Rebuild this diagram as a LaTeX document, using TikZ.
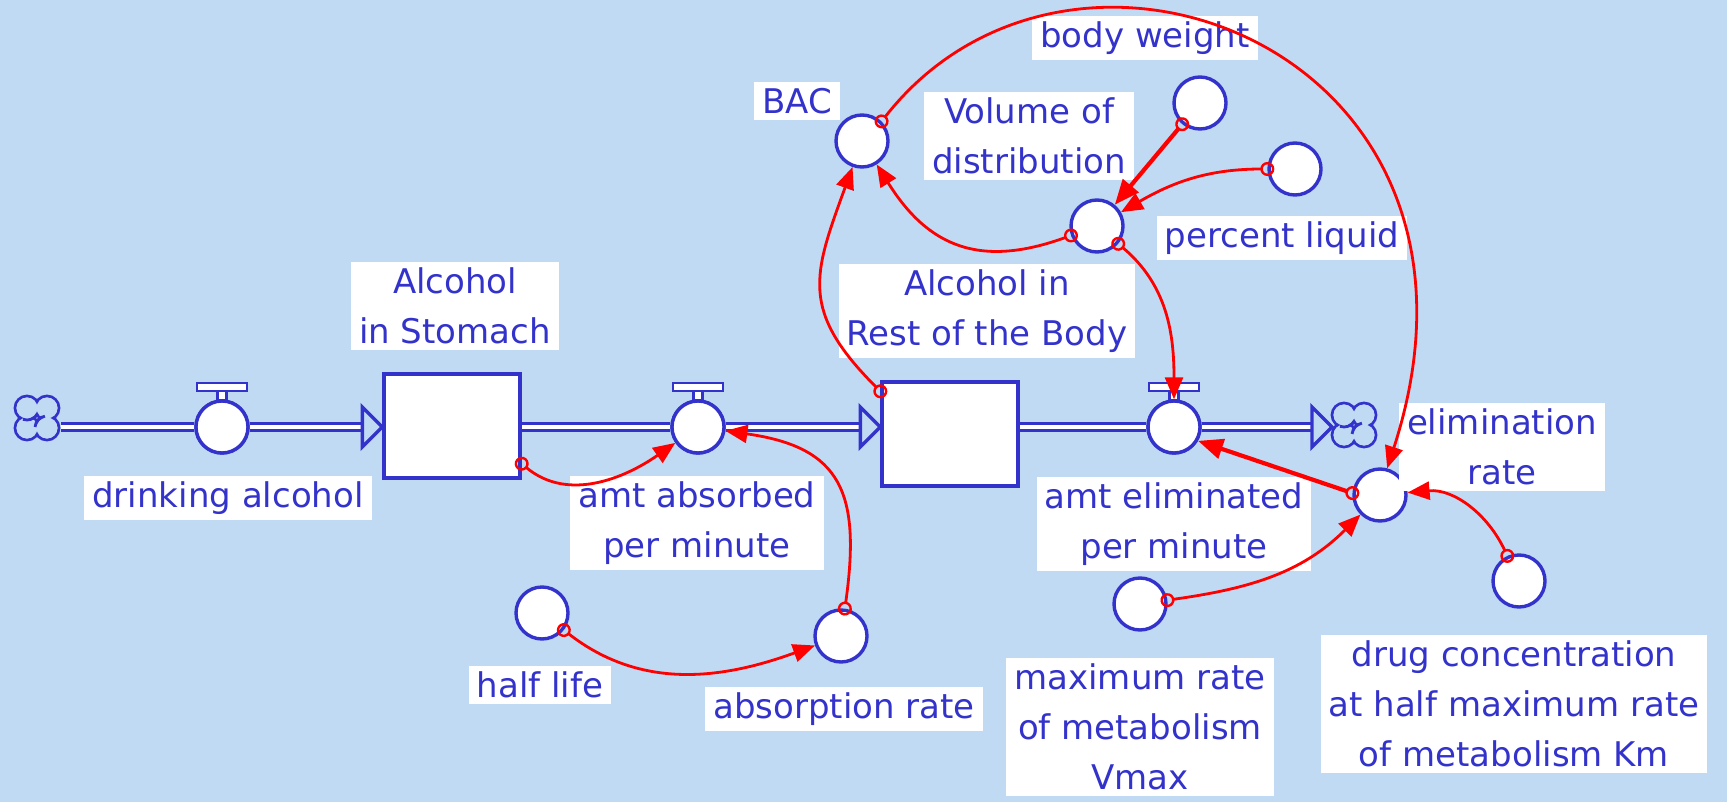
\documentclass[tikz,border=0pt]{standalone}
\usepackage{fontspec}
\newfontfamily\lblfont{DejaVu Sans}
\usetikzlibrary{arrows.meta}
\definecolor{bg}{RGB}{192,218,244}
\definecolor{vblue}{RGB}{51,51,204}
\tikzset{
  aux/.style={circle, draw=vblue, fill=white, line width=1.7pt, minimum size=26pt, inner sep=0pt},
  valve/.style={aux},
  stock/.style={rectangle, draw=vblue, fill=white, line width=1.7pt, minimum width=68pt, minimum height=52pt},
  lbl/.style={fill=white, text=vblue, align=center, inner xsep=4pt, inner ysep=3pt,
    font=\lblfont\fontsize{17}{25}\selectfont},
  pipe/.style={draw=vblue, line width=1.7pt, double=white, double distance=1.8pt},
  flowtip/.style={draw=vblue, fill=bg, line width=1.7pt, line join=miter},
  handle/.style={draw=vblue, fill=white, line width=1.4pt},
  cloudline/.style={draw=vblue, line width=1.4pt},
  link/.style={draw=red, line width=1.4pt, shorten <=-3.5pt,
    {Circle[open,length=7pt,line width=1.2pt]}-{Triangle[length=11pt,width=9pt]}},
  thicklink/.style={draw=red, line width=2.1pt, shorten <=-3.5pt,
    {Circle[open,length=7pt,line width=1.2pt]}-{Triangle[length=12.5pt,width=10pt]}}
}

\begin{document}
\begin{tikzpicture}[x=0.5pt,y=0.5pt]
  \fill[bg] (0,0) rectangle (1727,-802);
  \useasboundingbox (0,0) rectangle (1727,-802);

  \node[stock] (stomach) at (452,-426) {};
  \node[stock] (body) at (950,-434) {};
  \node[valve] (drink) at (222,-427) {};
  \node[valve] (absorb) at (698,-427) {};
  \node[valve] (elim) at (1174,-427) {};
  \coordinate (srcL) at (37,-418);
  \coordinate (sinkR) at (1354,-425);

  % flows
  \draw[pipe] ([xshift=12pt]srcL |- drink) -- (drink);
  \draw[pipe] (drink) -- ([xshift=-10pt]stomach.west |- drink);
  \draw[pipe] (stomach.east |- absorb) -- (absorb);
  \draw[pipe] (absorb) -- ([xshift=-10pt]body.west |- absorb);
  \draw[pipe] (body.east |- elim) -- (elim);
  \draw[pipe] (elim) -- ([xshift=-21pt]sinkR |- elim);
  \draw[flowtip] (stomach.west |- drink) -- ++(-20,20) -- ++(0,-40) -- cycle;
  \draw[flowtip] (body.west |- absorb) -- ++(-20,20) -- ++(0,-40) -- cycle;
  \draw[flowtip] ([xshift=-11pt]sinkR |- elim) -- ++(-20,20) -- ++(0,-40) -- cycle;
  \node[stock] at (stomach) {};
  \node[stock] at (body) {};
  \foreach \v in {drink,absorb,elim} {
    \node[valve] at (\v) {};
    \draw[handle] ([shift={(-4.5,27)}]\v.center) rectangle ([shift={(4.5,36)}]\v.center);
    \draw[handle] ([shift={(-25,36)}]\v.center) rectangle ([shift={(25,44)}]\v.center);
  }
  % clouds
  \foreach \c in {srcL,sinkR} {
    \foreach \dx/\dy in {-10/10,-10/-10,10/-10,10/10}
      \draw[cloudline] ([shift={(\dx,\dy)}]\c) circle[radius=12];
    \foreach \dx/\dy in {-10/10,-10/-10,10/-10,10/10}
      \fill[bg] ([shift={(\dx,\dy)}]\c) circle[radius=10.5];
    \draw[cloudline] ([shift={(-10,10)}]\c) ++(250:12) arc[start angle=250, end angle=330, radius=12];
    \draw[cloudline] ([shift={(10,-10)}]\c) ++(100:12) arc[start angle=100, end angle=175, radius=12];
  }

  % converters
  \node[aux] (bac) at (862,-141) {};
  \node[aux] (vod) at (1097,-226) {};
  \node[aux] (bw) at (1200,-103) {};
  \node[aux] (pl) at (1295,-169) {};
  \node[aux] (halflife) at (542,-613) {};
  \node[aux] (absrate) at (841,-636) {};
  \node[aux] (elimrate) at (1380,-495) {};
  \node[aux] (vmax) at (1140,-604) {};
  \node[aux] (km) at (1519,-581) {};

  % labels
  \node[lbl] (lstomach) at (455,-306) {Alcohol\\in Stomach};
  \node[lbl] (ldrink) at (228,-498) {drinking alcohol};
  \node[lbl] (labsorb) at (697,-523) {amt absorbed\\per minute};
  \node[lbl] (lhalf) at (540,-685) {half life};
  \node[lbl] (labsrate) at (844,-709) {absorption rate};
  \node[lbl] (lbody) at (987,-311) {Alcohol in\\Rest of the Body};
  \node[lbl] (lbac) at (797,-101) {BAC};
  \node[lbl] (lvod) at (1029,-136) {Volume of\\distribution};
  \node[lbl] (lbw) at (1145,-38) {body weight};
  \node[lbl] (lpl) at (1282,-238) {percent liquid};
  \node[lbl] (lelimrate) at (1502,-447) {elimination\\rate};
  \node[lbl] (lelim) at (1174,-524) {amt eliminated\\per minute};
  \node[lbl] (lvmax) at (1140,-727) {maximum rate\\of metabolism\\Vmax};
  \node[lbl] (lkm) at (1514,-704) {drug concentration\\at half maximum rate\\of metabolism Km};

  % links
  \draw[link] ([yshift=8pt]stomach.south east) to[out=-40,in=215] (absorb);
  \draw[link] (absrate) to[out=82,in=-8,looseness=1.4] (absorb);
  \draw[link] (halflife) to[out=-38,in=200] (absrate);
  \draw[link] ([yshift=-5.5pt]body.north west) to[out=135,in=-110,looseness=1.3] (bac);
  \draw[link] (vod) to[out=200,in=-58,looseness=1.2] (bac);
  \draw[link] (vod) to[out=-40,in=90] (elim);
  \draw[thicklink] (bw) -- (vod);
  \draw[link] (pl) to[out=180,in=30] (vod);
  \draw[link] (bac.45) .. controls +(52:310) and +(72:440) .. (elimrate.75);
  \draw[thicklink] (elimrate.176) -- (elim.-30);
  \draw[link] (vmax) to[out=8,in=225] (elimrate);
  \draw[link] (km) to[out=115,in=5] (elimrate);
\end{tikzpicture}
\end{document}
